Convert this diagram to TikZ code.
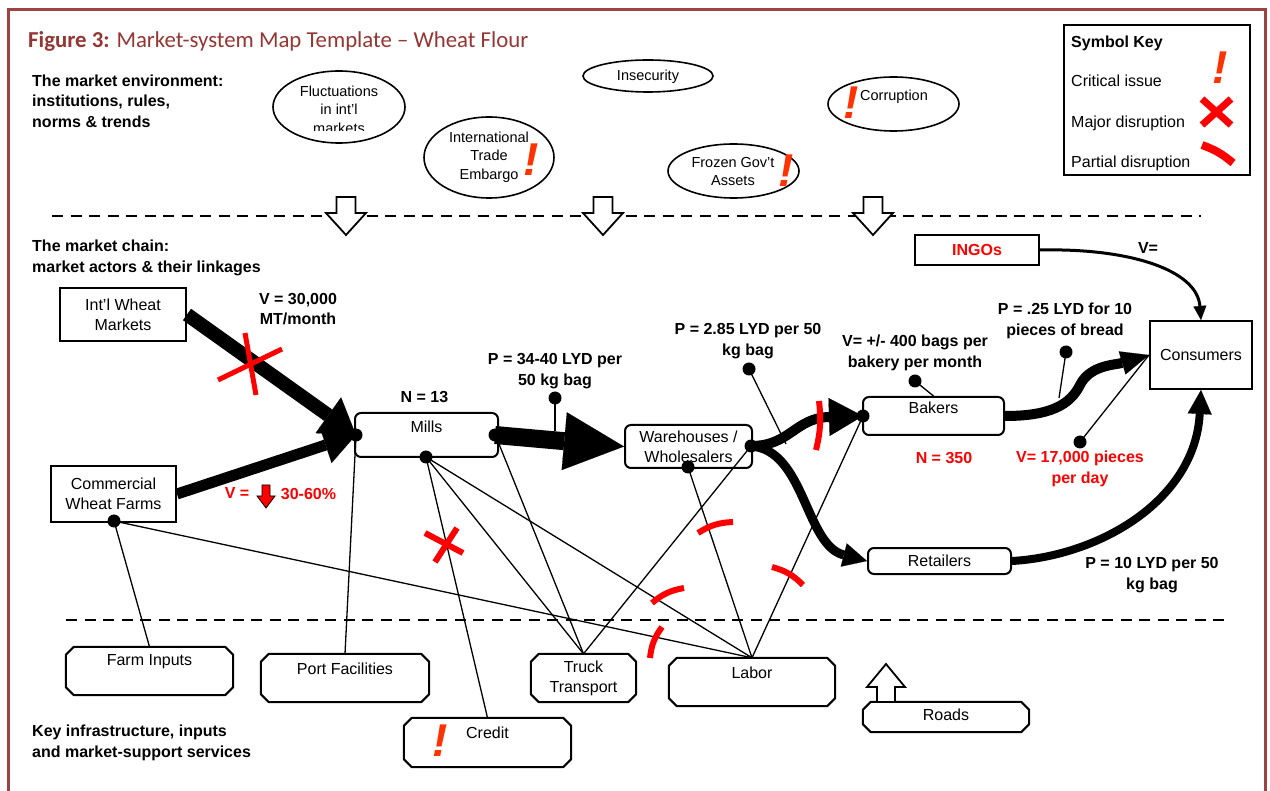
\documentclass[tikz,border=0pt]{standalone}
\usepackage{fontspec}
\setmainfont{Liberation Sans}
\newfontfamily\titlefont{Carlito}
\usetikzlibrary{arrows.meta,shapes.geometric}
\definecolor{framecol}{HTML}{9E4242}
\definecolor{titlecol}{HTML}{943634}
\definecolor{bangcol}{HTML}{FF3300}
\definecolor{discol}{HTML}{FF0000}
\newcommand\myoct[1]{\draw[octline] ([xshift=8pt]#1.north west) -- ([xshift=-8pt]#1.north east) -- ([yshift=-8pt]#1.north east) -- ([yshift=8pt]#1.south east) -- ([xshift=-8pt]#1.south east) -- ([xshift=8pt]#1.south west) -- ([yshift=8pt]#1.south west) -- ([yshift=-8pt]#1.north west) -- cycle;}
\begin{document}
\begin{tikzpicture}[x=1pt,y=-1pt,
  txt/.style={font=\fontsize{16}{20}\selectfont, align=center, inner sep=0pt},
  etxt/.style={font=\fontsize{14.5}{18.5}\selectfont, align=center, inner sep=0pt},
  btxt/.style={font=\fontsize{16}{20.5}\selectfont\bfseries, align=center, inner sep=0pt},
  rtxt/.style={btxt, text=discol},
  rbox/.style={draw, line width=2pt, inner sep=0pt, align=center, font=\fontsize{16}{20}\selectfont},
  rrbox/.style={rbox, rounded corners=6pt},
  obox/.style={draw=none, inner sep=0pt, align=center, font=\fontsize{16}{20}\selectfont},
  octline/.style={line width=2pt, line join=round},
  ell/.style={draw, ellipse, line width=1.6pt, inner sep=0pt},
  conn/.style={line width=1.3pt},
  dotnode/.style={circle, fill=black, inner sep=0pt, minimum size=13pt},
  bangmark/.style={text=bangcol, font=\fontsize{46}{46}\selectfont\bfseries\itshape, inner sep=0pt},
  xmark/.style={draw=discol, line width=5pt},
  pmark/.style={draw=discol, line width=6pt},
  dashline/.style={line width=2pt, dash pattern=on 11pt off 7.5pt},
  hollow/.style={draw=black, line width=1.8pt, fill=white, line join=miter},
  flow/.style={draw=black, line cap=butt},
]
\useasboundingbox (0,0) rectangle (1270,791);
\fill[white] (0,0) rectangle (1270,791);
\draw[framecol, line width=3pt] (8,795) -- (8,10) -- (1265,10) -- (1265,795);

\node[anchor=west, inner sep=0pt, text=titlecol, font=\titlefont\fontsize{22.8}{27}\selectfont] (title) at (28,41) {\textbf{Figure 3:} Market-system Map Template – Wheat Flour};

\node[btxt, anchor=west, align=left] (envlab) at (32,101) {The market environment:\\institutions, rules,\\norms \& trends};
\node[btxt, anchor=west, align=left] (chainlab) at (32,258) {The market chain:\\market actors \& their linkages};
\node[btxt, anchor=west, align=left] (infralab) at (32,743) {Key infrastructure, inputs\\and market-support services};

\draw[dashline] (52,216) -- (1201,216);
\draw[dashline] (66,620) -- (1229,620);

% environment ellipses
\node[ell, minimum width=132pt, minimum height=72pt] (fluct) at (339,107) {};
\begin{scope}
\clip (270,60) rectangle (410,130.5);
\node[etxt] (fluctT) at (339,109.5) {Fluctuations\\in int’l\\markets};
\end{scope}
\node[ell, minimum width=130pt, minimum height=81pt] (embargo) at (489,157.5) {};
\node[etxt] (embargoT) at (489,157) {International\\Trade\\Embargo};
\node[ell, minimum width=130pt, minimum height=32pt] (insec) at (648,76) {};
\node[etxt] (insecT) at (648,76.5) {Insecurity};
\node[ell, minimum width=131pt, minimum height=54pt] (corr) at (893.5,104) {};
\node[etxt] (corrT) at (894,96.5) {Corruption};
\node[ell, minimum width=131pt, minimum height=54pt] (frozen) at (733.5,171) {};
\node[etxt] (frozenT) at (733,171.5) {Frozen Gov’t\\Assets};

\node[bangmark] (bEmb) at (531,160) {!};
\node[bangmark] (bCorr) at (851,103) {!};
\node[bangmark] (bFroz) at (786,171) {!};

% hollow arrows
\foreach \ax in {346,603,873}{
  \draw[hollow] (\ax-9.5,197) -- (\ax+9.5,197) -- (\ax+9.5,213) -- (\ax+20,213) -- (\ax,235) -- (\ax-20,213) -- (\ax-9.5,213) -- cycle;
}

% symbol key
\node[draw, line width=1.5pt, minimum width=186pt, minimum height=150pt, inner sep=0pt] (key) at (1157,100) {};
\node[btxt, anchor=west] (keyT) at (1071,43.5) {Symbol Key};
\node[txt, anchor=west] (k1) at (1071,81) {Critical issue};
\node[txt, anchor=west] (k2) at (1071,123.5) {Major disruption};
\node[txt, anchor=west] (k3) at (1071,163.5) {Partial disruption};
\node[bangmark] (bKey) at (1220,68) {!};
\draw[xmark, line width=7pt] (1202,99) -- (1231,125);
\draw[xmark, line width=7pt] (1231,99) -- (1202,125);
\draw[pmark, line width=8pt] (1202,145) to[bend left=10] (1233,163);

% market chain nodes
\node[rbox, minimum width=126pt, minimum height=53pt] (intl) at (123,314.5) {Int’l Wheat\\Markets};
\node[rbox, minimum width=125pt, minimum height=56pt] (comm) at (113.5,494) {Commercial\\Wheat Farms};
\node[rrbox, minimum width=143pt, minimum height=44pt] (mills) at (426.5,435) {};
\node[txt] (millsT) at (426.5,427) {Mills};
\node[rrbox, minimum width=127pt, minimum height=43pt] (ware) at (688.5,446.5) {Warehouses /\\Wholesalers};
\node[rrbox, minimum width=141pt, minimum height=38pt] (bakers) at (933.5,416) {};
\node[txt] (bakersT) at (933.5,408) {Bakers};
\node[rrbox, minimum width=143pt, minimum height=26pt] (retail) at (939.5,561) {Retailers};
\node[rbox, minimum width=102pt, minimum height=68pt] (cons) at (1201,355) {Consumers};
\node[rbox, minimum width=124pt, minimum height=30pt, text=discol, font=\fontsize{16}{20}\selectfont\bfseries] (ingo) at (977,250) {INGOs};

% infrastructure boxes
\node[obox, minimum width=167pt, minimum height=48pt] (farm) at (149.5,671) {}; \myoct{farm}
\node[txt] (farmT) at (149.5,662) {Farm Inputs};
\node[obox, minimum width=168pt, minimum height=48pt] (port) at (345,678) {}; \myoct{port}
\node[txt] (portT) at (345,669) {Port Facilities};
\node[obox, minimum width=167pt, minimum height=49pt] (credit) at (487.5,742.5) {}; \myoct{credit}
\node[txt] (creditT) at (487.5,733) {Credit};
\node[bangmark] (bCred) at (440,741) {!};
\node[obox, minimum width=105pt, minimum height=48pt] (truck) at (583.5,678) {Truck\\Transport}; \myoct{truck}
\node[obox, minimum width=166pt, minimum height=48pt] (labor) at (752,682) {}; \myoct{labor}
\node[txt] (laborT) at (752,673) {Labor};
\node[obox, minimum width=166pt, minimum height=30pt] (roads) at (946,717) {}; \myoct{roads}
\node[txt] (roadsT) at (946,715) {Roads};
\draw[hollow] (877,702) -- (877,687) -- (867,687) -- (886,664) -- (905,687) -- (895,687) -- (895,702) -- cycle;

% labels
\node[btxt] (v30) at (298,309) {V = 30,000\\MT/month};
\node[btxt] (n13) at (424.5,397) {N = 13};
\node[btxt] (p3440) at (555,371) {P = 34-40 LYD per\\50 kg bag};
\node[btxt] (p285) at (748,341) {P = 2.85 LYD per 50\\kg bag};
\node[btxt] (v400) at (915,353) {V= +/- 400 bags per\\bakery per month};
\node[btxt] (p25) at (1065,321) {P = .25 LYD for 10\\pieces of bread};
\node[rtxt] (n350) at (944,458) {N = 350};
\node[rtxt] (v17) at (1080,469) {V= 17,000 pieces\\per day};
\node[btxt] (p10) at (1152,575) {P = 10 LYD per 50\\kg bag};
\node[btxt] (veq) at (1148,248) {V=};
\node[rtxt] (vr1) at (237,493) {V =};
\node[rtxt] (vr2) at (308.5,494) {30-60\%};
\draw[fill=discol, line width=0.8pt] (262,485) -- (270,485) -- (270,496) -- (275,496) -- (266,508) -- (257,496) -- (262,496) -- cycle;

% dots positions
\coordinate (mLc) at (356,435);
\coordinate (mRc) at (495,435);
\coordinate (mBc) at (426,457);
\coordinate (wRc) at (751,446);
\coordinate (wBc) at (688,467);
\coordinate (bLc) at (863,416);
\coordinate (cBc) at (114,521);
\coordinate (mRb) at (499,444);
\coordinate (c1) at (555,431);
\coordinate (c2) at (786,444);
\coordinate (c4) at (1059,398);

% thin connectors
\draw[conn] (cBc) -- (farm.north);
\draw[conn] (cBc) -- (labor.north);
\draw[conn] (mLc) -- (port.north);
\draw[conn] (mBc) -- (credit.north);
\draw[conn] (mBc) -- (truck.north);
\draw[conn] (mBc) -- (labor.north);
\draw[conn] (mRb) -- (truck.north);
\draw[conn] (wRc) -- (truck.north);
\draw[conn] (wBc) -- (labor.north);
\draw[conn] (bLc) -- (labor.north);

% thick flows
\draw[flow, line width=14pt, -{Triangle[length=34pt,width=44pt,line width=0.1pt]}] (intl.east) -- (mLc);
\draw[flow, line width=11pt, -{Triangle[length=32pt,width=38pt,line width=0.1pt]}] (comm.east) -- (mLc);
\draw[flow, line width=18pt, -{Triangle[length=60pt,width=58pt,line width=0.1pt]}] (mRc) -- (ware.west);
\draw[flow, line width=10pt, -{Triangle[length=34pt,width=38pt,line width=0.1pt]}] (wRc) .. controls (790,446) and (795,418) .. (bLc);
\draw[flow, line width=9pt, -{Triangle[length=24pt,width=24pt,line width=0.1pt]}] (wRc) .. controls (805,450) and (805,545) .. (retail.west);
\draw[flow, line width=10pt, -{Triangle[length=28pt,width=24pt,line width=0.1pt]}] (bakers.east) .. controls (1050,416) and (1070,405) .. (1080,385) .. controls (1090,365) and (1115,365) .. (cons.west);
\draw[flow, line width=8pt, -{Triangle[length=24pt,width=24pt,line width=0.1pt]}] (retail.east) .. controls (1100,556) and (1195,500) .. (cons.south);
\draw[flow, line width=3pt, -{Triangle[length=14pt,width=13pt,line width=0.1pt]}] (ingo.east) .. controls (1130,248) and (1197,270) .. (cons.north);

% dots
\node[dotnode] (mL) at (mLc) {};
\node[dotnode] (mR) at (mRc) {};
\node[dotnode] (mB) at (mBc) {};
\node[dotnode] (wR) at (wRc) {};
\node[dotnode] (wB) at (wBc) {};
\node[dotnode] (bL) at (bLc) {};
\node[dotnode] (cB) at (cBc) {};
\node[dotnode] (d1) at (555,398) {};
\node[dotnode] (d2) at (749,369) {};
\node[dotnode] (d3) at (915,381) {};
\node[dotnode] (d4) at (1066,352) {};
\node[dotnode] (d5) at (1080,442) {};
\draw[conn] (d1.center) -- (c1);
\draw[conn] (d2.center) -- (c2);
\draw[conn] (d3.center) -- (bakers.north);
\draw[conn] (d4.center) -- (c4);
\draw[conn] (d5.center) -- (cons.west);

% red marks
\draw[xmark] (245,333) -- (256,395);
\draw[xmark] (218,380) -- (282,349);
\draw[xmark, line width=6pt] (425,533) -- (463,553);
\draw[xmark, line width=6pt] (457,528) -- (435,562);
\draw[pmark] (819,401) to[bend left=10] (816,450);
\draw[pmark] (698,533) to[bend left=15] (733,522);
\draw[pmark] (652,603) to[bend left=15] (684,588);
\draw[pmark] (662,627) to[bend right=15] (650,658);
\draw[pmark] (772,567) to[bend left=15] (803,585);
\end{tikzpicture}
\end{document}
